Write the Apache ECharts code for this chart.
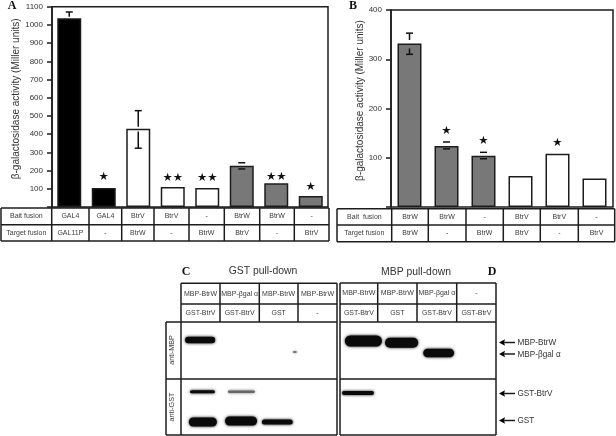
<!DOCTYPE html>
<html><head><meta charset="utf-8">
<style>html,body{margin:0;padding:0;background:#fff}#c{width:616px;height:436px}</style>
<script src="https://cdn.jsdelivr.net/npm/echarts@6/dist/echarts.min.js"></script>
</head><body><div id="c"></div>
<script>
// ---------- data: panel A ----------
const baitA   = ['GAL4','GAL4','BtrV','BtrV','-','BtrW','BtrW','-'];
const targetA = ['GAL11P','-','BtrW','-','BtrW','BtrV','-','BtrV'];
const valuesA = [1036,105,430,110,105,227,130,60];
const groupA  = ['k','k','w','w','w','g','g','g'];
// [bar, upper cap, upper stem end, lower stem start, lower cap]
const errorsA = [[0,1071,1045,null,null],[2,529,441,414,323],[5,243,null,null,209]];
const starsA  = [[1,167,'★'],[3,160,'★★'],[4,160,'★★'],[6,165,'★★'],[7,112,'★']];
const ticksA  = [100,200,300,400,500,600,700,800,900,1000,1100];
// ---------- data: panel B ----------
const baitB   = ['BtrW','BtrW','-','BtrV','BtrV','-'];
const targetB = ['BtrW','-','BtrW','BtrV','-','BtrV'];
const valuesB = [332,124,104,63,108,58];
const groupB  = ['g','g','g','w','w','w'];
const errorsB = [[0,353,339,322,310],[1,132,null,null,118],[2,111,null,null,98]];
const starsB  = [[1,155,'★'],[2,134,'★'],[4,129,'★']];
// ---------- data: blots (lane units, migration units) ----------
const headC1 = ['MBP-BtrW','MBP-βgal α','MBP-BtrW','MBP-BtrW'];
const headC2 = ['GST-BtrV','GST-BtrV','GST','-'];
const headD1 = ['MBP-BtrW','MBP-BtrW','MBP-βgal α','-'];
const headD2 = ['GST-BtrV','GST','GST-BtrV','GST-BtrV'];
const bandsC = [[.49,18,.77,6.5,1],[2.92,30,.1,1.5,.5],[.55,69.7,.64,3,1],[1.55,69.7,.69,2.6,.45],
                [.56,100,.72,9,1],[1.54,99,.82,9,1],[2.47,100,.79,5,1]];
const bandsD = [[.6,19,.95,11,1],[1.58,20.7,.85,10,1],[2.53,31,.79,8.5,1],[.46,71,.82,4,1]];
const arrowLabels = ['MBP-BtrW','MBP-βgal α','GST-BtrV','GST'];

// ---------- rendering ----------
const INK='#1c1c1c', TXT='#3c3c3c';
const SANS='"Liberation Sans",Arial,sans-serif', SERIF='"Liberation Serif",serif';
const colour={k:'#000',w:'#fff',g:'#787878'};
const yTitle='β-galactosidase activity (Miller units)';

function barSeries(x,y,vals,grp){return{type:'bar',xAxisIndex:x,yAxisIndex:y,barWidth:24,
  data:vals.map((v,i)=>({value:v,itemStyle:{color:colour[grp[i]]}})),
  itemStyle:{borderColor:INK,borderWidth:1.5},silent:true};}
function errSeries(x,y,rows){return{type:'custom',xAxisIndex:x,yAxisIndex:y,data:rows,encode:{x:0,y:1},clip:false,z:5,silent:true,
  renderItem(p,api){
    const i=api.value(0),kids=[];const st={stroke:'#111',lineWidth:1.5};
    const pt=v=>api.coord([i,v]);
    const seg=(a,b)=>kids.push({type:'line',shape:{x1:a[0],y1:a[1],x2:b[0],y2:b[1]},style:st});
    const cap=v=>{const c=pt(v);seg([c[0]-3.5,c[1]],[c[0]+3.5,c[1]]);};
    const r=rows[p.dataIndex];
    cap(r[1]); if(r[2]!=null)seg(pt(r[1]),pt(r[2]));
    if(r[4]!=null){cap(r[4]); if(r[3]!=null)seg(pt(r[3]),pt(r[4]));}
    return{type:'group',children:kids};
  }};}
function starSeries(x,y,rows){return{type:'custom',xAxisIndex:x,yAxisIndex:y,data:rows.map(r=>[r[0],r[1]]),encode:{x:0,y:1},clip:false,z:6,silent:true,
  renderItem(p,api){const c=api.coord([api.value(0),api.value(1)]);
    return{type:'text',x:c[0],y:c[1],style:{text:rows[p.dataIndex][2],align:'center',verticalAlign:'middle',
      font:'11.5px "DejaVu Sans"',fill:'#111'}};}};}
function gelSeries(x,y,rows){return{type:'custom',xAxisIndex:x,yAxisIndex:y,data:rows,encode:{x:0,y:1},clip:true,z:3,silent:true,
  renderItem(p,api){const r=rows[p.dataIndex];const c=api.coord([r[0],r[1]]);
    const w=api.size([r[2],0])[0],h=api.size([0,r[3]])[1];
    const shade=Math.round(10+(1-r[4])*170);const col='rgb('+shade+','+shade+','+shade+')';
    return{type:'rect',shape:{x:c[0]-w/2,y:c[1]-h/2,width:w,height:h,r:h/2},
      style:{fill:col,shadowBlur:3,shadowColor:col}};}};}

const valAxis=(grid,max,interval,fmt)=>({type:'value',gridIndex:grid,min:0,max,interval,
  axisLine:{show:true,onZero:false,lineStyle:{color:INK,width:1.5}},
  axisTick:{show:true,length:5,lineStyle:{color:INK,width:1.5}},
  axisLabel:{fontFamily:SANS,fontSize:8,color:'#333',margin:9,formatter:fmt},
  splitLine:{show:false}});
const catAxis=(grid,list)=>({type:'category',gridIndex:grid,data:list.map((_,i)=>i),
  axisLine:{show:false},axisTick:{show:false},axisLabel:{show:false}});
const hideV=(grid,min,max,inv)=>({type:'value',gridIndex:grid,min,max,inverse:!!inv,show:false});
const nameOpt=(gap,pad)=>({name:yTitle,nameLocation:'middle',nameRotate:90,nameGap:gap,
  nameTextStyle:{fontFamily:SANS,fontSize:10,color:'#333',padding:pad}});

// table / label furniture
const g=[];
const line=(x1,y1,x2,y2,w)=>g.push({type:'line',silent:true,shape:{x1,y1,x2,y2},style:{stroke:INK,lineWidth:w||1.5}});
const text=(x,y,t,o)=>g.push(Object.assign({type:'text',silent:true,x,y,
  style:{text:t,align:(o&&o.align)||'center',verticalAlign:'middle',font:(o&&o.font)||('7px '+SANS),fill:(o&&o.fill)||TXT}},o&&o.rot?{rotation:o.rot}:{}));
function table(edges,rows,rowLabels){
  const x0=edges[0],xN=edges[edges.length-1];
  rows.forEach(y=>line(x0,y,xN,y));
  edges.forEach(x=>line(x,rows[0],x,rows[rows.length-1]));
  for(let r=0;r<rowLabels.length;r++){
    const ym=(rows[r]+rows[r+1])/2;
    rowLabels[r].forEach((t,i)=>text((edges[i]+edges[i+1])/2,ym,t));
  }
}
table([1,51.7,89,121.7,154,189,224.3,259.7,294.3,329],[208,224.7,241],
  [['Bait fusion'].concat(baitA),['Target fusion'].concat(targetA)]);
table([337,391.7,428.3,466,503.3,540.3,578.3,614.7],[208.7,225,241.7],
  [['Bait  fusion'].concat(baitB),['Target fusion'].concat(targetB)]);
table([181,220,259.3,298,337],[283.3,304,322],[headC1,headC2]);
table([340,377.7,417,456.7,496],[283,304,322],[headD1,headD2]);
// blot frames
line(181,322,181,435);line(337,322,337,435);line(181,435,337,435);line(166,379,337,379);
line(166,322,181,322);line(166,322,166,435);line(166,435,181,435);
line(340,322,340,435);line(496,322,496,435);line(340,435,496,435);line(340,379,496,379);
text(172.5,350,'anti-MBP',{rot:Math.PI/2,font:'7.2px '+SANS});
text(172.5,407,'anti-GST',{rot:Math.PI/2,font:'7.2px '+SANS});
// titles and panel letters
const pFont='bold 12px '+SERIF;
text(12,5.5,'A',{font:pFont,fill:'#111'});text(353,6,'B',{font:pFont,fill:'#111'});
text(186,272,'C',{font:pFont,fill:'#111'});text(492,271.5,'D',{font:pFont,fill:'#111'});
text(263,271,'GST pull-down',{font:'10.4px '+SANS,fill:'#333'});
text(416,272,'MBP pull-down',{font:'10.4px '+SANS,fill:'#333'});
// arrows
[342.5,354,393.5,420.5].forEach((y,i)=>{
  line(501,y,515,y,1.5);
  g.push({type:'polygon',silent:true,shape:{points:[[499,y],[505,y-3.2],[504,y],[505,y+3.2]]},style:{fill:'#000'}});
  text(517.5,y+.3,arrowLabels[i],{align:'left',font:'8.2px '+SANS,fill:'#333'});
});

const chart=echarts.init(document.getElementById('c'),null,{renderer:'canvas'});
chart.setOption({animation:false,backgroundColor:'#fff',
  grid:[
    {left:52,top:6.7,width:276,height:200.3,show:true,borderColor:INK,borderWidth:1.5,containLabel:false},
    {left:391,top:10,width:222,height:197,show:true,borderColor:INK,borderWidth:1.5},
    {left:181,top:322,width:156,height:113},
    {left:340,top:322,width:156,height:113}],
  xAxis:[catAxis(0,valuesA),catAxis(1,valuesB),hideV(2,0,4),hideV(3,0,4)],
  yAxis:[
    Object.assign(valAxis(0,1100,100,v=>ticksA.includes(v)?String(v):''),nameOpt(28,[0,0,0,16])),
    Object.assign(valAxis(1,400,100,v=>v===0?'':String(v)),nameOpt(25,[0,0,0,16])),
    hideV(2,0,113,true),hideV(3,0,113,true)],
  series:[barSeries(0,0,valuesA,groupA),errSeries(0,0,errorsA),starSeries(0,0,starsA),
          barSeries(1,1,valuesB,groupB),errSeries(1,1,errorsB),starSeries(1,1,starsB),
          gelSeries(2,2,bandsC),gelSeries(3,3,bandsD)],
  graphic:g
});
</script></body></html>
